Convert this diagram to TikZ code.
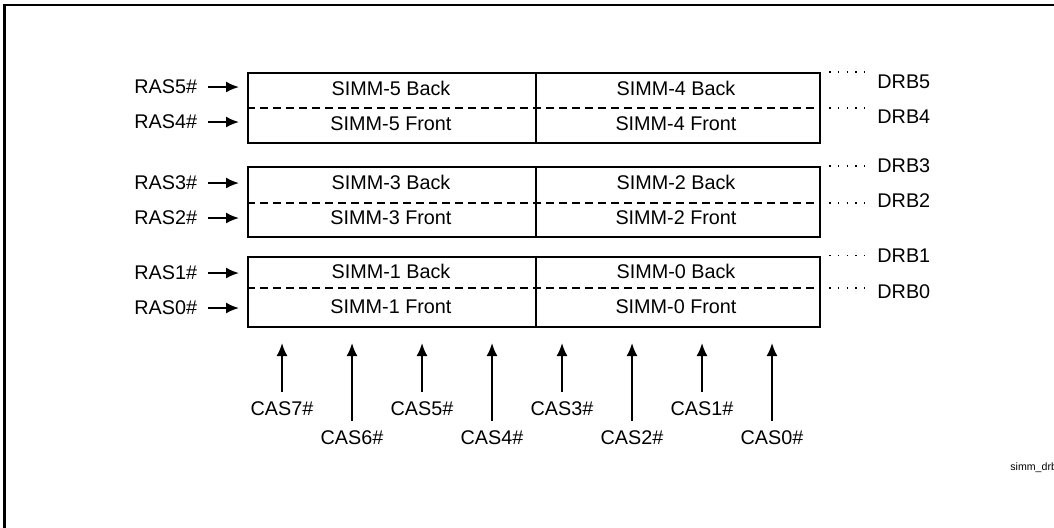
\documentclass[tikz,border=0pt]{standalone}
\usepackage{fontspec}
\setmainfont{Liberation Sans}
\usetikzlibrary{arrows.meta,positioning,calc}

\begin{document}
\begin{tikzpicture}[x=0.5pt,y=-0.5pt,
    font=\fontsize{9.9}{12}\selectfont,
    every node/.style={inner sep=0pt},
    bank/.style={draw,line width=1pt,minimum width=286pt,minimum height=35pt},
    divider/.style={line width=0.9pt},
    halfline/.style={line width=0.9pt,dash pattern=on 4pt off 2.5pt},
    sig/.style={line width=0.95pt,-{Latex[length=6.5pt,width=5.5pt]}},
    leader/.style={line width=0.8pt,dash pattern=on 0.8pt off 3.6pt}]
    \useasboundingbox (0,0) rectangle (1054,527);

    % Outer frame
    \draw[line width=1.2pt] (4.5,5) rectangle (1090,560);

    % SIMM banks
    \foreach \b/\t/\m/\u/\l/\r in {A/73/108/143/5/4, B/167/203/237/3/2, C/256/288/327/1/0} {
        \node[bank] (bank\b) at (534,{(\t+\u)/2}) {};
        \coordinate (mid\b) at (0,\m);
        \draw[halfline] (bank\b.west |- mid\b) -- (bank\b.east |- mid\b);
        \draw[divider] ([xshift=1pt]bank\b.north) -- ([xshift=1pt]bank\b.south);
        \node (simm\l back) at (391,\t+15) {SIMM-\l\ Back};
        \node (simm\l front) at (391,\t+51) {SIMM-\l\ Front};
        \node (simm\r back) at (676,\t+15) {SIMM-\r\ Back};
        \node (simm\r front) at (676,\t+51) {SIMM-\r\ Front};
    }

    % RAS inputs
    \foreach \n/\y/\b in {5/87/A, 4/122/A, 3/183/B, 2/218/B, 1/273/C, 0/308/C} {
        \node[anchor=east] (ras\n) at (197.5,\y) {RAS\n\#};
        \draw[sig,shorten >=4pt] ([xshift=5.25pt]ras\n.east) -- (ras\n.east -| bank\b.west);
    }

    % DRB boundaries
    \node[anchor=west] (drb5) at (877,82) {DRB5};
    \node[anchor=west] (drb4) at (877,117) {DRB4};
    \node[anchor=west] (drb3) at (877,166) {DRB3};
    \node[anchor=west] (drb2) at (877,201) {DRB2};
    \node[anchor=west] (drb1) at (877,256) {DRB1};
    \node[anchor=west] (drb0) at (877,292) {DRB0};
    \draw[leader,shorten >=6pt] ([xshift=4pt]bankA.north east) -- (drb5.west |- bankA.north);
    \draw[leader,shorten >=6pt] ([xshift=4pt]bankA.east |- midA) -- (drb4.west |- midA);
    \draw[leader,shorten >=6pt] ([xshift=4pt]bankB.north east) -- (drb3.west |- bankB.north);
    \draw[leader,shorten >=6pt] ([xshift=4pt]bankB.east |- midB) -- (drb2.west |- midB);
    \draw[leader,shorten >=6pt] ([xshift=4pt]bankC.north east) -- (drb1.west |- bankC.north);
    \draw[leader,shorten >=6pt] ([xshift=4pt]bankC.east |- midC) -- (drb0.west |- midC);

    % CAS inputs
    \foreach \n [count=\k from 0] in {7,6,5,4,3,2,1,0} {
        \pgfmathsetmacro\dy{mod(\k,2)*29}
        \node (cas\n) at (282+70*\k,409+\dy) {CAS\n\#};
        \coordinate (tip\n) at (282+70*\k,343);
        \draw[sig] ([yshift=5pt]cas\n.north) -- (tip\n);
    }

    \node[anchor=west,font=\fontsize{5.3}{6}\selectfont] (figid) at (1010,468) {simm\_drb};
\end{tikzpicture}
\end{document}
